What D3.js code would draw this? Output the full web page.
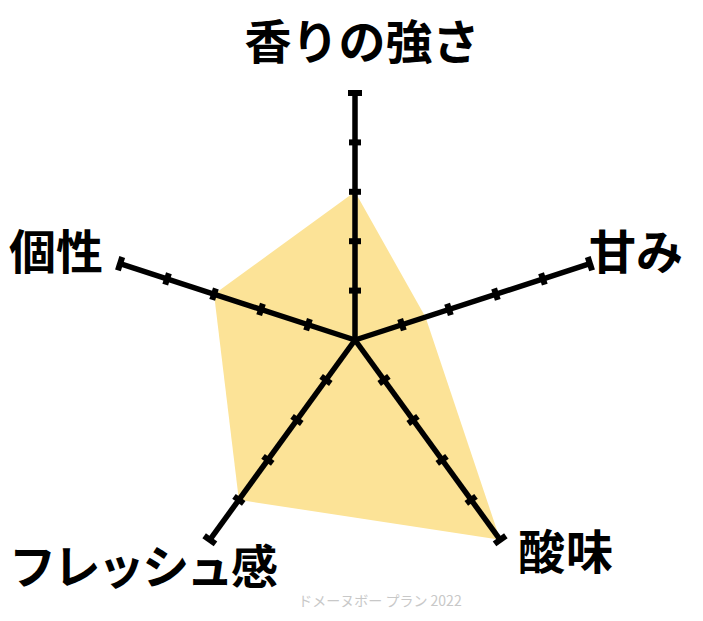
<!DOCTYPE html>
<html>
<head>
<meta charset="utf-8">
<script src="https://cdn.jsdelivr.net/npm/d3@7"></script>
<style>
  html, body { margin: 0; padding: 0; background: #fff; }
  svg { display: block; }
</style>
</head>
<body>
<svg id="chart" width="703" height="621"></svg>
<script>
// ---- data ----
const categories = ["香りの強さ", "甘み", "酸味", "フレッシュ感", "個性"];
const values = [3, 1.5, 5, 4, 3];
const levels = [1, 2, 3, 4, 5];
const footerText = "ドメーヌボー プラン 2022";

// ---- layout ----
const W = 703, H = 621;
const cx = 355, cy = 340, R = 247;
const labelLayout = [
  { x: 362, y: 38, anchor: "middle", ls: 0 },
  { x: 589, y: 248, anchor: "start", ls: 0 },
  { x: 518, y: 548, anchor: "start", ls: 1 },
  { x: 9, y: 563, anchor: "start", ls: -2.6 },
  { x: 9, y: 248, anchor: "start", ls: 0 }
];

const svg = d3.select("#chart");
const r = d3.scaleLinear().domain([0, 5]).range([0, R]);
const angle = d3.scaleLinear().domain([0, categories.length]).range([0, 2 * Math.PI]);

const g = svg.append("g").attr("transform", `translate(${cx},${cy})`);

const pt = (i, v) => {
  const a = angle(i);
  return [Math.sin(a) * r(v), -Math.cos(a) * r(v)];
};

// polygon
g.append("path")
  .datum(values)
  .attr("d", d3.line().x((d, i) => pt(i, d)[0]).y((d, i) => pt(i, d)[1]).curve(d3.curveLinearClosed))
  .attr("fill", "#fce397")
  .attr("stroke", "none");

// axes
const axes = g.selectAll("g.axis").data(categories).join("g").attr("class", "axis")
  .attr("transform", (d, i) => `rotate(${angle(i) * 180 / Math.PI})`);

axes.append("line")
  .attr("x1", 0).attr("y1", 0)
  .attr("x2", 0).attr("y2", -r(5))
  .attr("stroke", "#000").attr("stroke-width", 5.5);

axes.selectAll("line.tick").data(levels).join("line").attr("class", "tick")
  .attr("x1", d => d === 5 ? -7 : -6)
  .attr("x2", d => d === 5 ? 7 : 6)
  .attr("y1", d => -r(d)).attr("y2", d => -r(d))
  .attr("stroke", "#000").attr("stroke-width", 6);

// labels
svg.selectAll("text.label").data(categories).join("text").attr("class", "label")
  .attr("x", (d, i) => labelLayout[i].x)
  .attr("y", (d, i) => labelLayout[i].y)
  .attr("text-anchor", (d, i) => labelLayout[i].anchor)
  .attr("letter-spacing", (d, i) => labelLayout[i].ls)
  .attr("dominant-baseline", "central")
  .attr("font-family", "'Noto Sans CJK JP', sans-serif")
  .attr("font-weight", "bold")
  .attr("font-size", 47)
  .attr("fill", "#000")
  .text(d => d);

// footer
svg.append("text")
  .attr("x", 380).attr("y", 600)
  .attr("text-anchor", "middle")
  .attr("dominant-baseline", "central")
  .attr("font-family", "'Noto Sans CJK JP', sans-serif")
  .attr("font-size", 14)
  .attr("fill", "#c8c8c8")
  .text(footerText);
</script>
</body>
</html>
